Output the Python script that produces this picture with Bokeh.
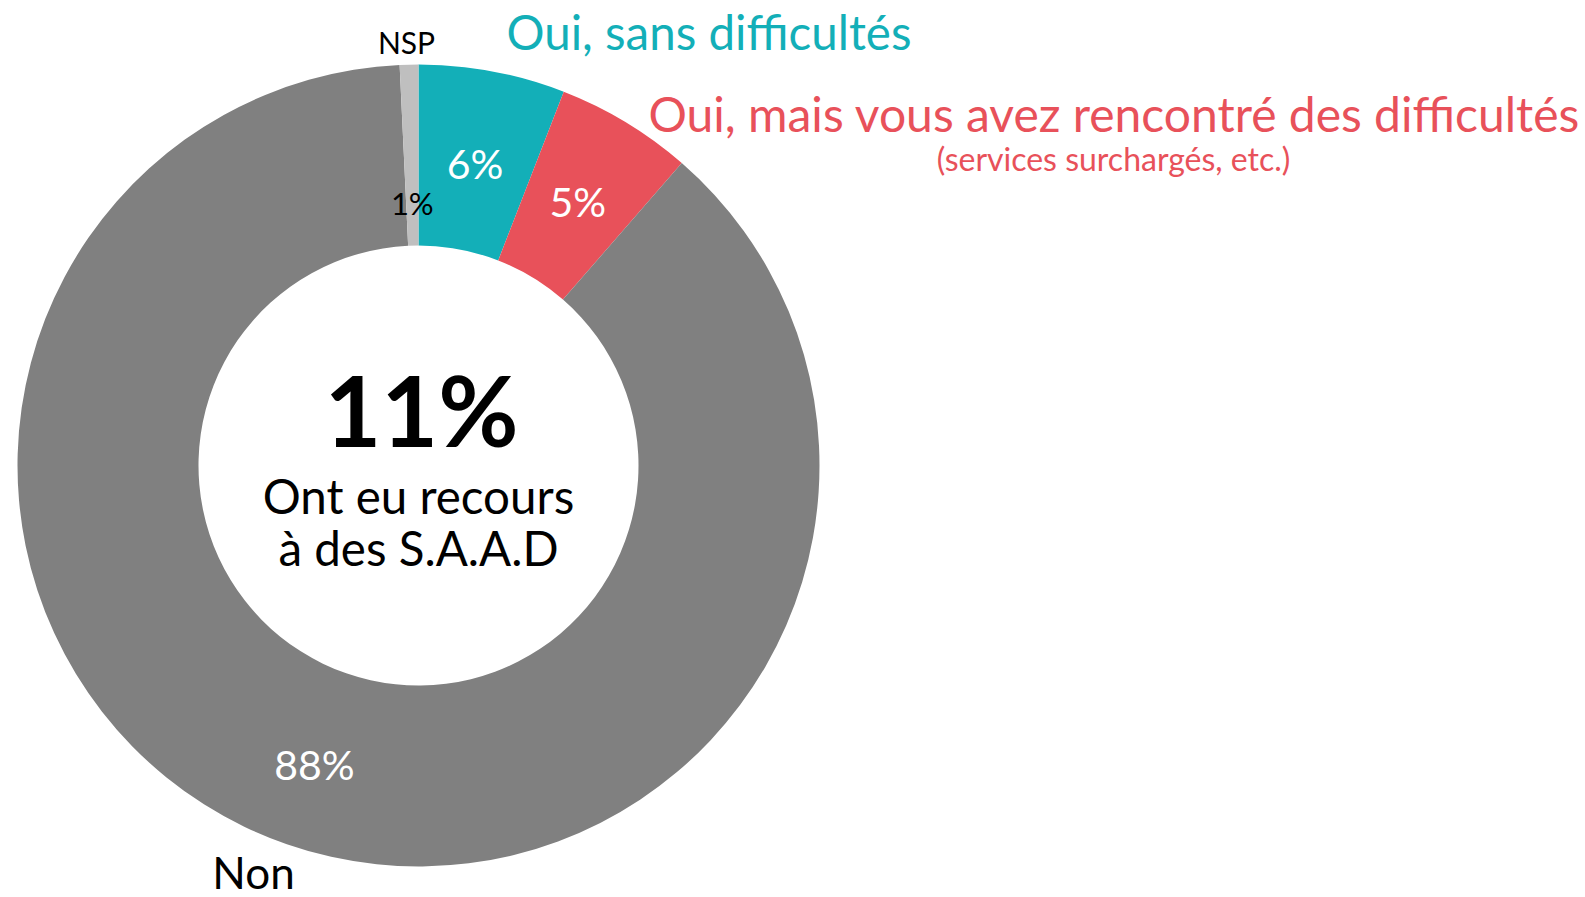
import math
from bokeh.plotting import figure
from bokeh.models import Range1d, ColumnDataSource
from bokeh.core.properties import value
from bokeh.embed import file_html
from bokeh.resources import INLINE

# ---- data ----
categories = ["Oui, sans difficultés", "Oui, mais vous avez rencontré des difficultés", "Non", "NSP"]
shares = [5.9, 5.5, 87.85, 0.75]
pct_labels = ["6%", "5%", "88%", "1%"]
colors = ["#13AFB8", "#E8515A", "#808080", "#BFBFBF"]
center_value = "11%"
center_text = ["Ont eu recours", "à des S.A.A.D"]
subtitle_red = "(services surchargés, etc.)"

FONT = "Lato"

total = sum(shares)
starts, ends, mids = [], [], []
cum = 0.0
for s in shares:
    a0 = math.pi / 2 - 2 * math.pi * cum / total
    cum += s
    a1 = math.pi / 2 - 2 * math.pi * cum / total
    starts.append(a0)
    ends.append(a1)
    mids.append((a0 + a1) / 2)

OUTER, INNER = 401, 220

p = figure(width=1585, height=897, x_range=Range1d(-418, 1167), y_range=Range1d(-432, 465),
           output_backend="svg", toolbar_location=None, min_border=0)
p.axis.visible = False
p.grid.visible = False
p.outline_line_color = None
p.background_fill_color = "white"
p.border_fill_color = "white"

src = ColumnDataSource(dict(start=starts, end=ends, color=colors, cat=categories))
p.annular_wedge(x=0, y=0, inner_radius=INNER, outer_radius=OUTER, start_angle="start", end_angle="end",
                direction="clock", fill_color="color", line_color=None, source=src)

# percentage labels inside ring (order: teal, red, Non, NSP)
label_r = [307, 308, 317, 263]
label_size = ["41px", "41px", "41px", "31px"]
label_color = ["white", "white", "white", "black"]
for i, t in enumerate(pct_labels):
    p.text(x=[label_r[i] * math.cos(mids[i])], y=[label_r[i] * math.sin(mids[i])], text=[t],
           text_font=value(FONT), text_font_size=label_size[i], text_color=label_color[i],
           text_align="center", text_baseline="middle")

# category labels
p.text(x=[88], y=[434], text=[categories[0]], text_font=value(FONT), text_font_size="47.5px",
       text_color=colors[0], text_align="left", text_baseline="middle")
p.text(x=[230], y=[352], text=[categories[1]], text_font=value(FONT), text_font_size="48px",
       text_color=colors[1], text_align="left", text_baseline="middle")
p.text(x=[695], y=[307], text=[subtitle_red], text_font=value(FONT), text_font_size="32px",
       text_color=colors[1], text_align="center", text_baseline="middle")
p.text(x=[-12], y=[424], text=[categories[3]], text_font=value(FONT), text_font_size="30px",
       text_color="black", text_align="center", text_baseline="middle")
p.text(x=[-165], y=[-406], text=[categories[2]], text_font=value(FONT), text_font_size="44px",
       text_color="black", text_align="center", text_baseline="middle")

# center text
p.text(x=[3], y=[57], text=[center_value], text_font=value(FONT), text_font_size="98px",
       text_font_style="bold", text_color="black", text_align="center", text_baseline="middle")
p.text(x=[0, 0], y=[-30, -82], text=center_text, text_font=value(FONT), text_font_size="47.5px",
       text_color="black", text_align="center", text_baseline="middle")

open("out.html", "w").write(file_html(p, INLINE))
